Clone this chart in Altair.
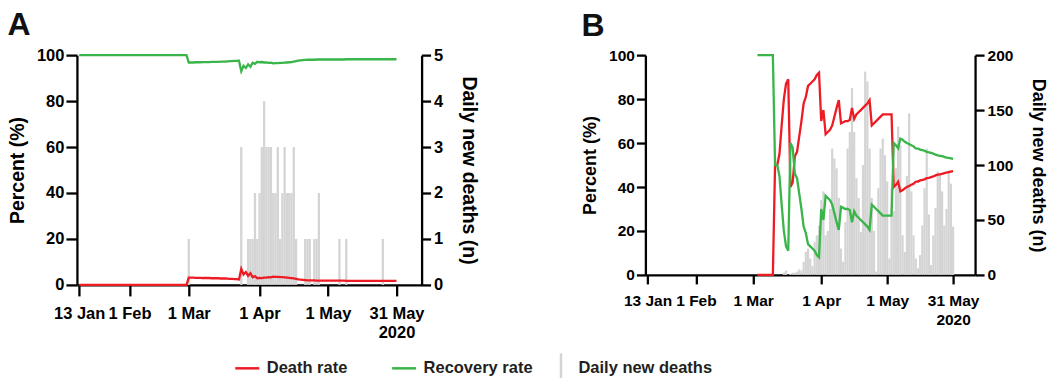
import altair as alt
import pandas as pd

RED = "#ed1c24"
GREEN = "#39b54a"
GRAY = "#d4d4d4"

# x axis: day index counted from 13 Jan 2020
tick_days = [0, 22, 48, 79, 109, 139]
tick_labels = ["13 Jan", "1 Feb", "1 Mar", "1 Apr", "1 May", "31 May|2020"]

line_series = ["Death rate", "Recovery rate"]
line_colors = [RED, GREEN]
bar_series = ["Daily new deaths"]
bar_colors = [GRAY]

# ---------------- Panel A ----------------
a_days = list(range(0, 140))
a_death = ([0] * 48 +
           [3.2, 3.2, 3.2, 3.1, 3.1, 3.1, 3.0, 3.0, 3.0, 3.0, 2.9, 2.9, 2.9, 2.9, 2.8, 2.8, 2.8, 2.7, 2.6, 2.6, 2.5, 2.5, 2.4] +
           [7.0, 4.6, 5.6, 4.0, 5.1, 3.3, 3.8, 2.9, 3.1, 3.0, 3.2, 3.2, 3.4, 3.3, 3.6, 3.5, 3.5, 3.4, 3.4, 3.3, 3.2, 3.1, 3.0, 2.8, 2.6] +
           [2.4, 2.3, 2.2, 2.1, 2.0, 2.0, 2.0, 2.0, 1.9, 1.9, 1.9, 1.9, 1.9, 1.9, 1.9, 1.9, 1.9, 1.9, 1.9, 1.9,
            1.9, 1.8, 1.8, 1.8, 1.8, 1.8, 1.8, 1.8, 1.8, 1.8, 1.8, 1.8, 1.8, 1.8, 1.8, 1.8, 1.8, 1.8, 1.8, 1.8,
            1.8, 1.8, 1.8, 1.8])
a_recovery = ([100] * 48 +
              [96.8, 96.8, 96.8, 96.9, 96.9, 96.9, 97.0, 97.0, 97.0, 97.0, 97.1, 97.1, 97.1, 97.1, 97.2, 97.2, 97.2, 97.3, 97.4, 97.4, 97.5, 97.5, 97.6] +
              [93.0, 95.4, 94.4, 96.0, 94.9, 96.7, 96.2, 97.1, 96.9, 97.0, 96.8, 96.8, 96.6, 96.7, 96.4, 96.5, 96.5, 96.6, 96.6, 96.7, 96.8, 96.9, 97.0, 97.2, 97.4] +
              [97.6, 97.7, 97.8, 97.9, 98.0, 98.0, 98.0, 98.0, 98.1, 98.1, 98.1, 98.1, 98.1, 98.1, 98.1, 98.1, 98.1, 98.1, 98.1, 98.1,
               98.1, 98.2, 98.2, 98.2, 98.2, 98.2, 98.2, 98.2, 98.2, 98.2, 98.2, 98.2, 98.2, 98.2, 98.2, 98.2, 98.2, 98.2, 98.2, 98.2,
               98.2, 98.2, 98.2, 98.2])
a_bar_days = [48, 71, 74, 75, 76, 77, 78, 79, 80, 81, 82, 83, 84, 85, 86, 87, 88, 89, 90, 91, 92, 93, 94, 95,
              99, 100, 101, 103, 104, 105, 114, 117, 133]
a_bar_vals = [1, 3, 1, 1, 1, 2, 1, 2, 3, 4, 3, 3, 3, 2, 2, 3, 1, 2, 3, 2, 2, 2, 3, 1,
              1, 1, 1, 1, 1, 2, 1, 1, 1]

# ---------------- Panel B ----------------
b_days = list(range(50, 140))
b_death = [0, 0, 0, 0, 0, 0, 0, 0,
           50, 50, 55, 68, 80, 87, 89, 40, 42, 54, 56, 63, 70, 78, 81, 86, 87, 88, 89, 91, 92,
           70, 75, 64, 65, 66, 68, 72, 76, 79.5, 69, 69.5, 70, 70, 70.5, 76, 71, 73, 74, 75, 76, 77, 78, 79.5,
           68, 69, 70, 71, 72, 73, 73, 73, 73, 73,
           40, 41, 42.4, 38, 38.5, 39.4, 40, 40.5, 41, 41.5, 42.4, 42.5, 43, 43.2, 43.5, 44, 44.2, 44.5, 44.8,
           45.3, 45.6, 45.8, 46, 46.3, 46.6, 46.8, 47, 47.2]
b_recovery = [100, 100, 100, 100, 100, 100, 100, 100,
              50, 50, 45, 32, 20, 13, 11, 60, 58, 46, 44, 37, 30, 22, 19, 14, 13, 12, 11, 9, 8,
              30, 25, 36, 35, 34, 32, 28, 24, 20.5, 31, 30.5, 30, 30, 29.5, 24, 29, 27, 26, 25, 24, 23, 22, 20.5,
              32, 31, 30, 29, 28, 27, 27, 27, 27, 27,
              60, 59, 57.6, 62, 61.5, 60.6, 60, 59.5, 59, 58.5, 57.6, 57.5, 57, 56.8, 56.5, 56, 55.8, 55.5, 55.2,
              54.7, 54.4, 54.2, 54, 53.7, 53.4, 53.2, 53, 52.8]
b_bar_days = list(range(62, 140))
b_bar_vals = [2, 4, 0, 1, 2, 2, 3, 5, 4, 12, 21, 24, 15, 8, 30, 36, 45, 68, 76, 36,
              40, 60, 115, 106, 97, 70, 24, 12, 48, 115, 130, 170, 130, 88, 70, 39, 100, 185, 176, 115,
              70, 40, 3, 79, 115, 124, 109, 85, 15, 79, 58, 97, 135, 118, 36, 21, 90, 147, 76, 36,
              15, 6, 18, 45, 79, 115, 55, 9, 36, 61, 94, 91, 76, 45, 60, 95, 83, 44]

assert len(a_death) == len(a_days) == len(a_recovery)
assert len(b_death) == len(b_days) == len(b_recovery)
assert len(b_bar_days) == len(b_bar_vals)
assert len(a_bar_days) == len(a_bar_vals)

# label expression built from the tick lists
label_expr = "''"
for d, lab in reversed(list(zip(tick_days, tick_labels))):
    label_expr = f"datum.value == {d} ? split('{lab}', '|') : ({label_expr})"

AXIS_FONT = "Liberation Sans"
LEGEND_FONT = "Liberation Sans"


def x_enc(field, xmax, s):
    return alt.X(field, type="quantitative",
                 scale=alt.Scale(domain=[-1, xmax], nice=False, zero=False),
                 axis=alt.Axis(values=tick_days, labelExpr=label_expr, title=None,
                               labelOverlap=False, labelFlush=False, tickSize=s["tick"],
                               labelFontSize=s["label"], labelPadding=10, labelLineHeight=19))


def panel(title, days, death, recov, bar_days, bar_vals, xmax, w, h, rmax, rticks, s, with_legend):
    lines = pd.DataFrame({"day": days, "death": death, "recovery": recov})
    bars = pd.DataFrame({"day": bar_days, "n": bar_vals})

    bar = (alt.Chart(bars)
           .transform_calculate(x0="datum.day - 0.5", x1="datum.day + 0.5", base="0")
           .mark_rect(color=GRAY)
           .encode(x=x_enc("x0", xmax, s), x2="x1:Q",
                   y=alt.Y("n:Q", scale=alt.Scale(domain=[0, rmax], nice=False),
                           axis=alt.Axis(orient="right", values=rticks, title="Daily new deaths (n)",
                                         tickSize=s["rtick"], labelPadding=3, titlePadding=16,
                                         labelFontSize=s["label"], titleFontSize=s["title"])),
                   y2="base:Q"))
    red = (alt.Chart(lines).mark_line(color=RED, strokeWidth=2.3)
           .encode(x=x_enc("day", xmax, s),
                   y=alt.Y("death:Q", scale=alt.Scale(domain=[0, 100], nice=False),
                           axis=alt.Axis(orient="left", values=[0, 20, 40, 60, 80, 100], title="Percent (%)",
                                         tickSize=s["tick"], labelPadding=2, titlePadding=9,
                                         labelFontSize=s["label"], titleFontSize=s["title"]))))
    green = (alt.Chart(lines).mark_line(color=GREEN, strokeWidth=2.3)
             .encode(x=x_enc("day", xmax, s),
                     y=alt.Y("recovery:Q", scale=alt.Scale(domain=[0, 100], nice=False), axis=None)))
    layers = [bar, red, green]
    if with_legend:
        common = dict(orient="none", legendY=300, direction="horizontal", title=None,
                      symbolSize=576, symbolStrokeWidth=2.5, padding=0,
                      labelFont=LEGEND_FONT, labelFontWeight="bold", labelFontSize=16.5,
                      labelColor="#231f20", labelLimit=300)
        leg_lines = alt.Legend(legendX=157, symbolType="M-1,0H1", columnPadding=39, labelOffset=6, **common)
        leg_bars = alt.Legend(legendX=471, symbolType="M0,-1.25V1.05", labelOffset=4, **common)
        dummy1 = (alt.Chart(pd.DataFrame({"series": line_series}))
                  .mark_point(opacity=0, filled=False)
                  .encode(color=alt.Color("series:N", scale=alt.Scale(domain=line_series, range=line_colors),
                                          legend=leg_lines)))
        dummy2 = (alt.Chart(pd.DataFrame({"series": bar_series}))
                  .mark_point(opacity=0, filled=False)
                  .encode(stroke=alt.Stroke("series:N", scale=alt.Scale(domain=bar_series, range=bar_colors),
                                            legend=leg_bars)))
        layers += [dummy1, dummy2]
    return (alt.layer(*layers)
            .resolve_scale(y="independent")
            .properties(width=w, height=h,
                        title=alt.TitleParams(title, anchor="start", frame="bounds", fontSize=32,
                                              font=AXIS_FONT, fontWeight="bold", offset=5, color="#111111")))


sa = {"tick": 11, "rtick": 9, "label": 16.5, "title": 19.5}
sb = {"tick": 9, "rtick": 9, "label": 15.5, "title": 18}
pa = panel("A", a_days, a_death, a_recovery, a_bar_days, a_bar_vals, 150, 345, 230, 5, [0, 1, 2, 3, 4, 5], sa, True)
pb = panel("B", b_days, b_death, b_recovery, b_bar_days, b_bar_vals, 149, 330, 220, 200, [0, 50, 100, 150, 200], sb, False)

chart = (alt.hconcat(pa, pb, spacing=224, bounds="flush")
         .resolve_scale(x="independent")
         .properties(padding={"left": 7, "top": 9, "right": 4, "bottom": 0})
         .configure_view(stroke=None)
         .configure_axis(domainColor="black", domainWidth=2.3, tickColor="black", tickWidth=2.3,
                         labelFont=AXIS_FONT, labelFontWeight="bold", labelFontSize=16, labelColor="black",
                         titleFont=AXIS_FONT, titleFontWeight="bold", titleFontSize=18, titleColor="black",
                         grid=False)
         .configure_legend(labelFont=LEGEND_FONT, labelFontWeight="bold", labelFontSize=16.5,
                           labelColor="#231f20", labelLimit=300))

chart.save("out.html", embed_options={"renderer": "svg", "actions": False})
